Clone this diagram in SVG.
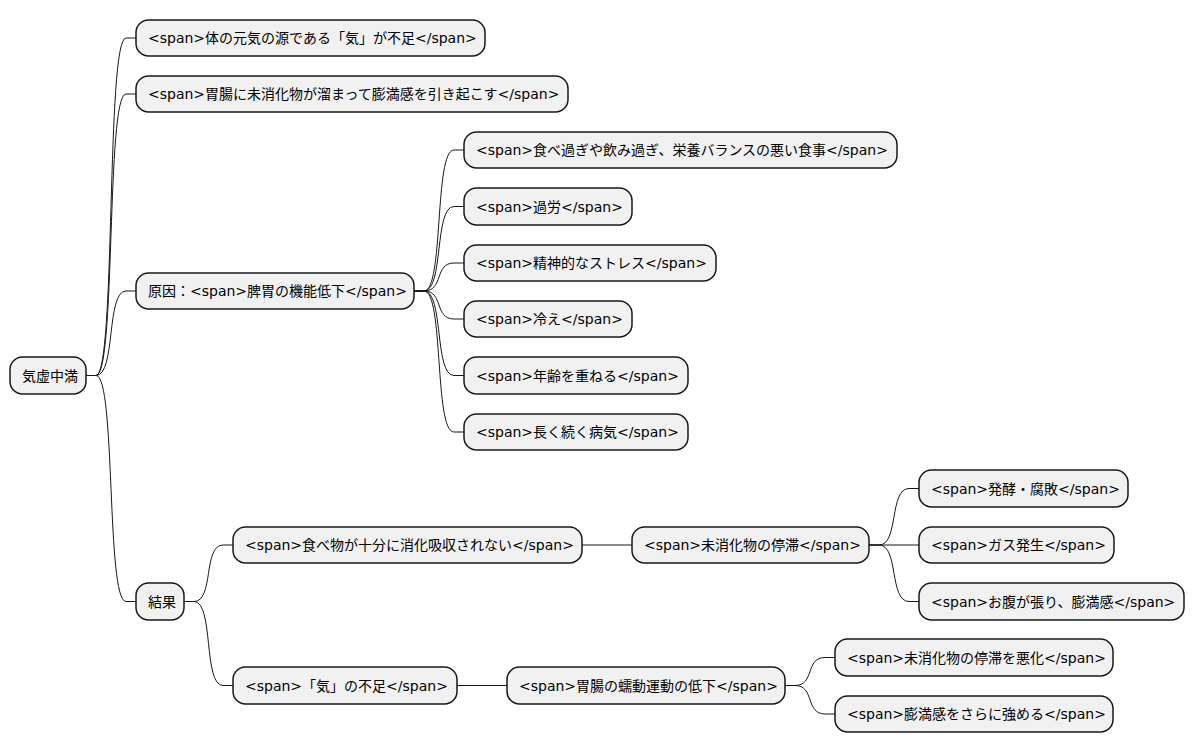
<svg xmlns="http://www.w3.org/2000/svg" width="1195" height="752" viewBox="0 0 1195 752">
<style>
.n rect{fill:#F1F1F1;stroke:#181818;stroke-width:1.5}
.n text{font-family:"DejaVu Sans","Noto Sans CJK JP",sans-serif;font-size:14px;fill:#000}
#links path{fill:none;stroke:#181818;stroke-width:1}
</style>
<rect width="1195" height="752" fill="#FFFFFF"/>
<g id="links">
<path d="M86,375.5 L96,375.5 C116,375.5 106,38 126,38 L136,38"/>
<path d="M86,375.5 L96,375.5 C116,375.5 106,94 126,94 L136,94"/>
<path d="M86,375.5 L96,375.5 C116,375.5 106,291 126,291 L136,291"/>
<path d="M86,375.5 L96,375.5 C116,375.5 106,601.5 126,601.5 L136,601.5"/>
<path d="M414,291 L424,291 C444,291 434,150 454,150 L464,150"/>
<path d="M414,291 L424,291 C444,291 434,206.5 454,206.5 L464,206.5"/>
<path d="M414,291 L424,291 C444,291 434,263 454,263 L464,263"/>
<path d="M414,291 L424,291 C444,291 434,319 454,319 L464,319"/>
<path d="M414,291 L424,291 C444,291 434,375.5 454,375.5 L464,375.5"/>
<path d="M414,291 L424,291 C444,291 434,432 454,432 L464,432"/>
<path d="M184,601.5 L194,601.5 C214,601.5 203,545 223,545 L233,545"/>
<path d="M184,601.5 L194,601.5 C214,601.5 203,685.5 223,685.5 L233,685.5"/>
<path d="M582,545 L632,545"/>
<path d="M869,545 L879,545 C899,545 889,488.5 909,488.5 L919,488.5"/>
<path d="M869,545 L919,545"/>
<path d="M869,545 L879,545 C899,545 889,601.5 909,601.5 L919,601.5"/>
<path d="M457,685.5 L507,685.5"/>
<path d="M785,685.5 L795,685.5 C815,685.5 805,657.5 825,657.5 L835,657.5"/>
<path d="M785,685.5 L795,685.5 C815,685.5 805,714 825,714 L835,714"/>
</g>
<g id="root" class="n"><rect x="10" y="357" width="76" height="37" rx="12.5"/><text x="22" y="380.5">気虚中満</text></g>
<g id="n1" class="n"><rect x="136" y="20" width="349" height="36" rx="12.5"/><text x="148" y="43">&lt;span&gt;体の元気の源である「気」が不足&lt;/span&gt;</text></g>
<g id="n2" class="n"><rect x="136" y="76" width="432" height="36" rx="12.5"/><text x="148" y="99">&lt;span&gt;胃腸に未消化物が溜まって膨満感を引き起こす&lt;/span&gt;</text></g>
<g id="n3" class="n"><rect x="136" y="273" width="278" height="36" rx="12.5"/><text x="148" y="296">原因：&lt;span&gt;脾胃の機能低下&lt;/span&gt;</text></g>
<g id="n4" class="n"><rect x="136" y="583" width="48" height="37" rx="12.5"/><text x="148" y="606.5">結果</text></g>
<g id="c1" class="n"><rect x="464" y="132" width="433" height="36" rx="12.5"/><text x="476" y="155">&lt;span&gt;食べ過ぎや飲み過ぎ、栄養バランスの悪い食事&lt;/span&gt;</text></g>
<g id="c2" class="n"><rect x="464" y="188" width="168" height="37" rx="12.5"/><text x="476" y="211.5">&lt;span&gt;過労&lt;/span&gt;</text></g>
<g id="c3" class="n"><rect x="464" y="245" width="252" height="36" rx="12.5"/><text x="476" y="268">&lt;span&gt;精神的なストレス&lt;/span&gt;</text></g>
<g id="c4" class="n"><rect x="464" y="301" width="168" height="36" rx="12.5"/><text x="476" y="324">&lt;span&gt;冷え&lt;/span&gt;</text></g>
<g id="c5" class="n"><rect x="464" y="357" width="224" height="37" rx="12.5"/><text x="476" y="380.5">&lt;span&gt;年齢を重ねる&lt;/span&gt;</text></g>
<g id="c6" class="n"><rect x="464" y="414" width="224" height="36" rx="12.5"/><text x="476" y="437">&lt;span&gt;長く続く病気&lt;/span&gt;</text></g>
<g id="r1" class="n"><rect x="233" y="527" width="349" height="36" rx="12.5"/><text x="245" y="550">&lt;span&gt;食べ物が十分に消化吸収されない&lt;/span&gt;</text></g>
<g id="r2" class="n"><rect x="233" y="667" width="224" height="37" rx="12.5"/><text x="245" y="690.5">&lt;span&gt;「気」の不足&lt;/span&gt;</text></g>
<g id="r1a" class="n"><rect x="632" y="527" width="237" height="36" rx="12.5"/><text x="644" y="550">&lt;span&gt;未消化物の停滞&lt;/span&gt;</text></g>
<g id="r2a" class="n"><rect x="507" y="667" width="278" height="37" rx="12.5"/><text x="519" y="690.5">&lt;span&gt;胃腸の蠕動運動の低下&lt;/span&gt;</text></g>
<g id="r1a1" class="n"><rect x="919" y="470" width="209" height="37" rx="12.5"/><text x="931" y="493.5">&lt;span&gt;発酵・腐敗&lt;/span&gt;</text></g>
<g id="r1a2" class="n"><rect x="919" y="527" width="195" height="36" rx="12.5"/><text x="931" y="550">&lt;span&gt;ガス発生&lt;/span&gt;</text></g>
<g id="r1a3" class="n"><rect x="919" y="583" width="265" height="37" rx="12.5"/><text x="931" y="606.5">&lt;span&gt;お腹が張り、膨満感&lt;/span&gt;</text></g>
<g id="r2a1" class="n"><rect x="835" y="639" width="278" height="37" rx="12.5"/><text x="847" y="662.5">&lt;span&gt;未消化物の停滞を悪化&lt;/span&gt;</text></g>
<g id="r2a2" class="n"><rect x="835" y="696" width="278" height="36" rx="12.5"/><text x="847" y="719">&lt;span&gt;膨満感をさらに強める&lt;/span&gt;</text></g>
</svg>
